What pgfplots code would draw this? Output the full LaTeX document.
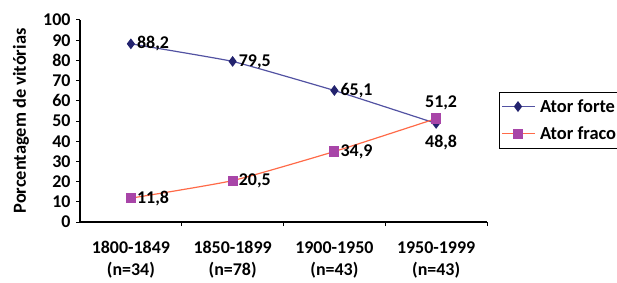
\documentclass[border=0pt]{standalone}
\usepackage{fontspec}
\setmainfont{Carlito}
\usepackage{pgfplots}
\usepackage{pgfplotstable}
\pgfplotsset{compat=1.18}
\definecolor{forteline}{HTML}{5252A2}
\definecolor{fortemark}{HTML}{23236E}
\definecolor{fracoline}{HTML}{FF6A48}
\definecolor{fracomark}{HTML}{A845A8}
\pgfplotstableread{
x y lab
0 88.2 {88,2}
1 79.5 {79,5}
2 65.1 {65,1}
3 48.8 {48,8}
}\forte
\pgfplotstableread{
x y lab
0 11.8 {11,8}
1 20.5 {20,5}
2 34.9 {34,9}
3 51.2 {51,2}
}\fraco
\begin{document}
\begin{tikzpicture}[x=1bp,y=1bp]
\useasboundingbox (0,0) rectangle (617,282);
\begin{axis}[
  at={(80bp,60bp)}, anchor=south west,
  scale only axis, width=407bp, height=202bp,
  xmin=-0.5, xmax=3.5, ymin=0, ymax=100,
  axis x line=bottom, axis y line=left,
  axis line style={-, black, line width=1.1pt},
  /pgf/number format/assume math mode=true,
  xtick={0,1,2,3},
  xticklabels={{1800-1849\\(n=34)},{1850-1899\\(n=78)},{1900-1950\\(n=43)},{1950-1999\\(n=43)}},
  xticklabel style={align=center, yshift=-12bp, font=\fontsize{18}{22}\selectfont\bfseries},
  major x tick style={draw=none},
  minor xtick={0.5,1.5,2.5,3.5},
  minor tick length=4bp,
  ytick={0,10,...,100},
  major tick length=4bp,
  tick align=outside,
  tick style={black, line width=1pt},
  every tick label/.append style={font=\fontsize{18}{22}\selectfont\bfseries},
  yticklabel style={xshift=-2bp},
  ylabel={Porcentagem de vitórias},
  ylabel style={font=\fontsize{18.5}{22}\selectfont\bfseries, at={(axis description cs:-0.145,0.5)}, anchor=center},
  legend style={at={(1.0295,0.6436)}, anchor=north west, draw=black, line width=0.8pt,
    font=\fontsize{18.5}{22}\selectfont\bfseries, inner xsep=2bp, inner ysep=5bp, row sep=9bp,
    legend cell align=left, nodes={inner xsep=4.5bp}},
  legend image code/.code={\draw[mark repeat=2, mark phase=2, #1] plot coordinates {(0bp,0bp) (16bp,0bp) (33bp,0bp)};},
  every node near coord/.append style={font=\fontsize{18}{22}\selectfont\bfseries, inner sep=2pt, text=black},
  clip=false,
]
\addplot[forteline, line width=1.2pt, smooth, tension=0.2, mark=diamond*, mark size=4.5pt,
  mark options={fill=fortemark, draw=fortemark}]
  table[x=x, y=y] {\forte};
\addlegendentry{Ator forte}
\addplot[fracoline, line width=1.2pt, smooth, tension=0.3, mark=square*, mark size=4.5pt,
  mark options={fill=fracomark, draw=fracomark}]
  table[x=x, y=y] {\fraco};
\addlegendentry{Ator fraco}
% data labels
\addplot[draw=none, forget plot, nodes near coords, point meta=explicit symbolic,
  every node near coord/.append style={anchor=west, xshift=4bp}]
  table[x=x, y=y, meta=lab] {
x y lab
0 88.2 {88,2}
1 79.5 {79,5}
2 65.1 {65,1}
};
\addplot[draw=none, forget plot, nodes near coords, point meta=explicit symbolic,
  every node near coord/.append style={anchor=north, xshift=5bp, yshift=-10bp}]
  table[x=x, y=y, meta=lab] {
x y lab
3 48.8 {48,8}
};
\addplot[draw=none, forget plot, nodes near coords, point meta=explicit symbolic,
  every node near coord/.append style={anchor=west, xshift=4bp}]
  table[x=x, y=y, meta=lab] {
x y lab
0 11.8 {11,8}
1 20.5 {20,5}
2 34.9 {34,9}
};
\addplot[draw=none, forget plot, nodes near coords, point meta=explicit symbolic,
  every node near coord/.append style={anchor=south, xshift=5bp, yshift=6bp}]
  table[x=x, y=y, meta=lab] {
x y lab
3 51.2 {51,2}
};
\end{axis}
\end{tikzpicture}
\end{document}
